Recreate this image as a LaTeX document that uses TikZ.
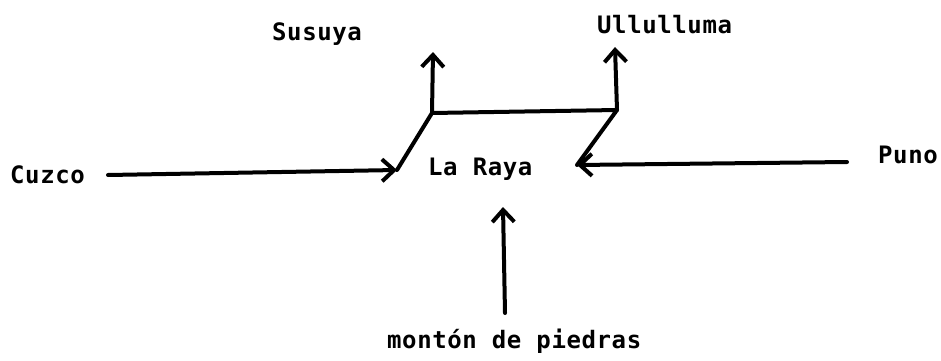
\documentclass[tikz,border=0pt]{standalone}
\usepackage{fontspec}
\setmonofont[LetterSpace=2.5]{DejaVu Sans Mono}
\usetikzlibrary{arrows.meta}
\begin{document}
\begin{tikzpicture}[x=1pt,y=1pt,
  lbl/.style={font=\ttfamily\bfseries\fontsize{24}{26}\selectfont, inner sep=0pt, anchor=base west},
  route/.style={line width=4pt, line cap=round, line join=round},
  arr/.style={route, -{Straight Barb[length=12pt,width=22pt,line width=4pt]}}]
\useasboundingbox (0,0) rectangle (941,360);
% labels
\node[lbl] (cuzco)  at (10,177)  {Cuzco};
\node[lbl] (laraya) at (428,185) {La Raya};
\node[lbl] (puno)   at (878,197) {Puno};
\node[lbl] (susuya) at (272,320) {Susuya};
\node[lbl] (ullu)   at (597,327) {Ullulluma};
\node[lbl] (monton) at (387,12)  {montón de piedras};
% junction points
\coordinate (cstart) at (108,185);
\coordinate (ctip)   at (397,190);
\coordinate (tl)     at (432,247);
\coordinate (tr)     at (617,250);
\coordinate (stip)   at (433,308);
\coordinate (utip)   at (615,313);
\coordinate (ptip)   at (577,195);
\coordinate (pstart) at (847,198);
\coordinate (btip)   at (503,153);
\coordinate (bstart) at (505,47);
% connectors
\draw[arr] (cstart) -- (ctip);
\draw[arr] (pstart) -- (ptip);
\draw[arr] (bstart) -- (btip);
\draw[route] (ctip) -- (tl) -- (tr) -- (ptip);
\draw[arr] (tl) -- (stip);
\draw[arr] (tr) -- (utip);
\end{tikzpicture}
\end{document}
